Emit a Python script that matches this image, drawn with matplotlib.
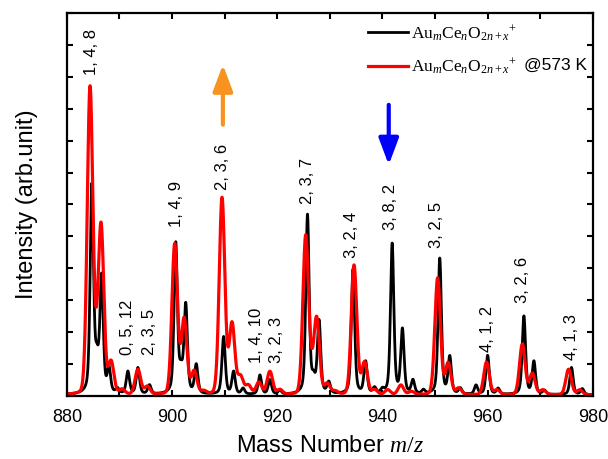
import numpy as np
import matplotlib
matplotlib.use("Agg")
import matplotlib.pyplot as plt

plt.rcParams['font.family'] = ['Liberation Sans', 'DejaVu Sans']
plt.rcParams['mathtext.fontset'] = 'custom'
plt.rcParams['mathtext.rm'] = 'Liberation Serif'
plt.rcParams['mathtext.it'] = 'Liberation Serif:italic'

# peak centres (m/z) and heights, room temperature (black)
black_pos = [884.75, 885.7, 886.6, 888.0, 889.6, 891.6, 893.5, 895.7,
             900.7, 901.7, 902.6, 904.6, 909.8, 911.7, 913.5, 916.7, 918.6, 920.5,
             925.75, 926.9, 927.95, 929.8, 934.4, 936.8, 938.5, 940.0,
             941.85, 943.8, 945.8, 947.8, 950.9, 952.8, 954.8, 957.8,
             960.0, 962.0, 966.9, 968.8, 970.8, 975.95, 978.0]
black_h = [6.5, 0.9, 3.6, 0.75, 0.15, 0.7, 0.82, 0.28,
           4.7, 0.6, 2.75, 0.9, 1.8, 0.7, 0.18, 0.6, 0.45, 0.12,
           5.6, 0.4, 2.25, 0.35, 3.9, 1.0, 0.18, 0.12,
           4.7, 2.0, 0.42, 0.12, 4.25, 1.15, 0.18, 0.28,
           1.22, 0.18, 2.45, 1.02, 0.12, 0.85, 0.18]

# same, heated to 573 K (red)
red_pos = [884.4, 885.5, 886.5, 888.4, 890.5, 893.5, 895.3,
           900.5, 902.3, 904.2, 906.0, 909.5, 911.4, 913.0, 914.5, 916.5, 918.6, 920.5,
           925.4, 926.4, 927.5, 929.5, 931.0, 934.6, 936.6, 938.5, 941.0, 943.5, 945.5,
           950.5, 952.5, 954.5, 959.8, 961.8, 966.6, 968.5, 970.5, 975.4, 977.5]
red_h = [9.55, 0.6, 5.2, 1.0, 0.15, 0.78, 0.25,
         4.7, 2.35, 0.72, 0.1, 6.15, 2.2, 0.55, 0.28, 0.38, 0.72, 0.15,
         4.9, 0.45, 2.35, 0.33, 0.1, 4.05, 1.0, 0.15, 0.15, 0.3, 0.1,
         3.65, 0.98, 0.2, 1.02, 0.15, 1.58, 0.66, 0.15, 0.8, 0.15]

# cluster assignments (m, n, x) and where they sit
labels = ["1, 4, 8", "0, 5, 12", "2, 3, 5", "1, 4, 9", "2, 3, 6", "1, 4, 10", "3, 2, 3",
          "2, 3, 7", "3, 2, 4", "3, 8, 2", "3, 2, 5", "4, 1, 2", "3, 2, 6", "4, 1, 3"]
label_x = [884.75, 891.6, 895.8, 900.9, 909.66, 916.1, 919.9,
           925.8, 934.2, 941.6, 950.3, 960.0, 966.7, 976.0]
label_y = [10.06, 1.3, 1.3, 5.3, 6.45, 1.03, 1.03,
           6.0, 4.33, 5.2, 4.64, 1.38, 2.9, 1.13]

mz = np.linspace(880, 980, 4001)


def pvoigt(x, pos, h, fwhm, eta):
    s = fwhm / 2.355
    g = fwhm / 2
    y = np.zeros_like(x) + 0.04
    for p, a in zip(pos, h):
        d = x - p
        y += a * ((1 - eta) * np.exp(-d ** 2 / (2 * s ** 2)) + eta / (1 + (d / g) ** 2))
    return y


black = pvoigt(mz, black_pos, black_h, 0.75, 0.45)
red = pvoigt(mz, red_pos, red_h, 1.25, 0.1)

fig = plt.figure(figsize=(6.08, 4.59), dpi=100)
ax = fig.add_axes([0.110, 0.137, 0.865, 0.835])

formula = r"$\mathrm{Au}_m\mathrm{Ce}_n\mathrm{O}_{2n+x}{}^{+}$"
ax.plot(mz, black, color="black", lw=2.0, label=formula)
ax.plot(mz, red, color="#ff0000", lw=2.3, label=formula)

for t, x, y in zip(labels, label_x, label_y):
    ax.text(x, y, t, rotation=90, ha="center", va="bottom", fontsize=12)

ax.annotate("", xy=(909.66, 10.38), xytext=(909.66, 8.5),
            arrowprops=dict(arrowstyle="-|>,head_length=0.8,head_width=0.3",
                            lw=3, color="#f7931e", mutation_scale=20, shrinkA=0, shrinkB=0))
ax.annotate("", xy=(941.2, 7.24), xytext=(941.2, 9.12),
            arrowprops=dict(arrowstyle="-|>,head_length=0.8,head_width=0.3",
                            lw=3, color="#0000ff", mutation_scale=20, shrinkA=0, shrinkB=0))

ax.set_xlim(880, 980)
ax.set_ylim(0, 12)
ax.set_xticks(np.arange(880, 981, 20))
ax.set_xticks(np.arange(890, 980, 20), minor=True)
ax.set_yticks(np.arange(0, 13, 1))
ax.set_yticklabels([])
ax.tick_params(which="both", direction="in", top=True, right=True,
               length=4.5, width=1.5, labelsize=13, pad=9)
ax.tick_params(axis="y", labelleft=False)
for s in ax.spines.values():
    s.set_linewidth(1.6)

ax.set_xlabel("Mass Number $m/z$", fontsize=17, labelpad=7)
ax.set_ylabel("Intensity (arb.unit)", fontsize=17, labelpad=21)

leg = ax.legend(loc="upper left", bbox_to_anchor=(0.552, 1.0), frameon=False,
                fontsize=12.5, handlelength=2.3, handletextpad=0.2,
                borderaxespad=0.2, labelspacing=0.75)
ax.text(0.869, 0.864, "@573 K", transform=ax.transAxes, fontsize=12.5,
        ha="left", va="center")

plt.savefig("out.png", dpi=100)
plt.close()
